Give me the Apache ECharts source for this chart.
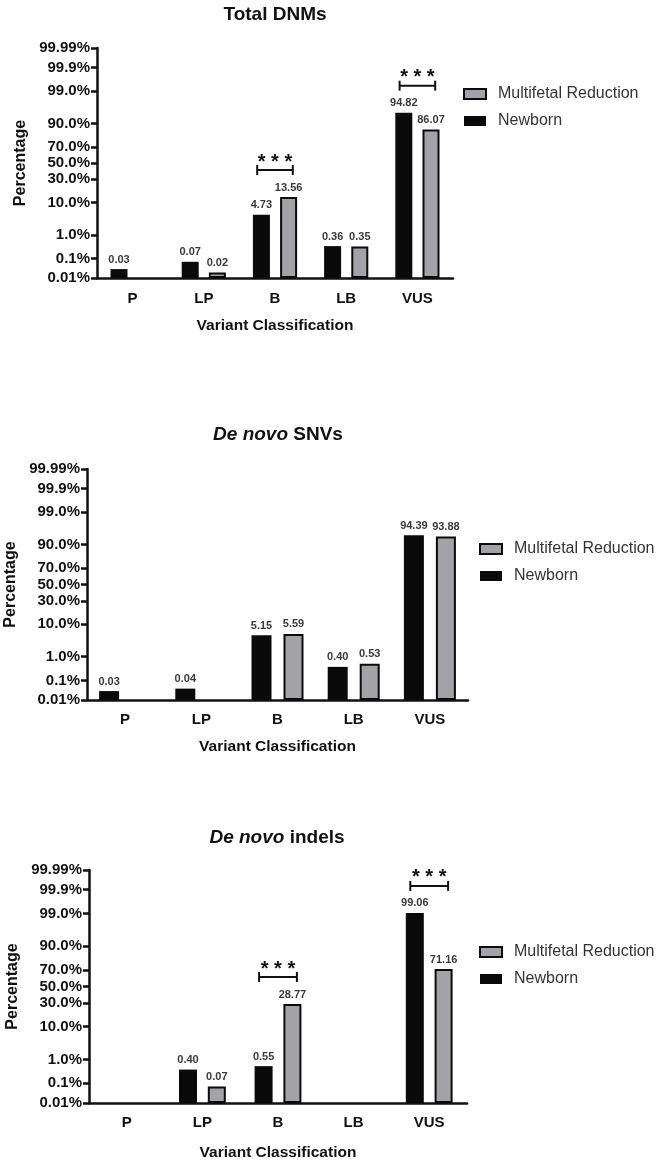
<!DOCTYPE html>
<html>
<head>
<meta charset="UTF-8">
<title></title>
<style>body{margin:0;background:#fff}</style>
</head>
<body>
<div id="main" style="width:661px;height:1169px"></div>
<script src="https://cdn.jsdelivr.net/npm/echarts@6/dist/echarts.min.js"></script>
<script>
var categories = ['P', 'LP', 'B', 'LB', 'VUS'];
var tickLabels = [0.01, 0.1, 1, 10, 30, 50, 70, 90, 99, 99.9, 99.99];

// Total DNMs
var totalNewborn = [0.03, 0.07, 4.73, 0.36, 94.82];
var totalMFR = [null, 0.02, 13.56, 0.35, 86.07];
var totalSig = ['B', 'VUS'];

// De novo SNVs
var snvNewborn = [0.03, 0.04, 5.15, 0.40, 94.39];
var snvMFR = [null, null, 5.59, 0.53, 93.88];
var snvSig = [];

// De novo indels
var indelNewborn = [null, 0.40, 0.55, null, 99.06];
var indelMFR = [null, 0.07, 28.77, null, 71.16];
var indelSig = ['B', 'VUS'];

// inverse normal cdf (probability scale like prism)
function probit(p) {
	var a = [-3.969683028665376e+01, 2.209460984245205e+02, -2.759285104469687e+02, 1.383577518672690e+02, -3.066479806614716e+01, 2.506628277459239e+00];
	var b = [-5.447609879822406e+01, 1.615858368580409e+02, -1.556989798598866e+02, 6.680131188771972e+01, -1.328068155288572e+01];
	var c = [-7.784894002430293e-03, -3.223964580411365e-01, -2.400758277161838e+00, -2.549671010422639e+00, 4.374664141464968e+00, 2.938163982698783e+00];
	var d = [7.784695709041462e-03, 3.224671290700398e-01, 2.445134137142996e+00, 3.754408661907416e+00];
	var pl = 0.02425, q, r;
	if (p < pl) {
		q = Math.sqrt(-2 * Math.log(p));
		return (((((c[0] * q + c[1]) * q + c[2]) * q + c[3]) * q + c[4]) * q + c[5]) / ((((d[0] * q + d[1]) * q + d[2]) * q + d[3]) * q + 1);
	}
	if (p > 1 - pl) {
		q = Math.sqrt(-2 * Math.log(1 - p));
		return -(((((c[0] * q + c[1]) * q + c[2]) * q + c[3]) * q + c[4]) * q + c[5]) / ((((d[0] * q + d[1]) * q + d[2]) * q + d[3]) * q + 1);
	}
	q = p - 0.5;
	r = q * q;
	return (((((a[0] * r + a[1]) * r + a[2]) * r + a[3]) * r + a[4]) * r + a[5]) * q / (((((b[0] * r + b[1]) * r + b[2]) * r + b[3]) * r + b[4]) * r + 1);
}
var BASE = -probit(0.0001);
function toAxis(pct) {
	return pct == null ? null : probit(pct / 100) + BASE;
}
var tickVals = tickLabels.map(toAxis);
function tickText(v) {
	for (var i = 0; i < tickLabels.length; i++) {
		if (Math.abs(tickVals[i] - v) < 1e-6) {
			var t = tickLabels[i];
			return (t % 1 === 0 ? t.toFixed(1) : String(t)) + '%';
		}
	}
	return '';
}

var FONT = 'Liberation Sans, Arial, sans-serif';
var INK = '#111';

var panels = [
	{ title: 'Total DNMs', newborn: totalNewborn, mfr: totalMFR, sig: totalSig,
		grid: { left: 97, top: 48, width: 356, height: 230 }, barWidth: 17,
		titleX: 275, titleY: 15, legendX: 463, legendY: 86, yGap: 63, xGap: 40, catMargin: 13 },
	{ title: '{i|De novo} SNVs', newborn: snvNewborn, mfr: snvMFR, sig: snvSig,
		grid: { left: 87, top: 469, width: 381, height: 231 }, barWidth: 20,
		titleX: 278, titleY: 435, legendX: 479, legendY: 541, yGap: 66, xGap: 39, catMargin: 12 },
	{ title: '{i|De novo} indels', newborn: indelNewborn, mfr: indelMFR, sig: indelSig,
		grid: { left: 89, top: 870, width: 378, height: 233 }, barWidth: 18,
		titleX: 277, titleY: 838, legendX: 479, legendY: 944, yGap: 68, xGap: 42, catMargin: 12 }
];

var option = {
	animation: false,
	backgroundColor: '#fff',
	textStyle: { fontFamily: FONT },
	title: [], legend: [], grid: [], xAxis: [], yAxis: [], series: []
};

panels.forEach(function(p, i) {
	option.title.push({
		text: p.title,
		left: p.titleX, top: p.titleY - 10, textAlign: 'center', padding: 0,
		textStyle: {
			fontSize: 19, fontWeight: 'bold', color: INK, fontFamily: FONT,
			rich: { i: { fontSize: 19, fontWeight: 'bold', fontStyle: 'italic', color: INK, fontFamily: FONT } }
		}
	});
	option.legend.push({
		orient: 'vertical', left: p.legendX, top: p.legendY, padding: 0,
		itemWidth: 22, itemHeight: 10, itemGap: 11, icon: 'rect',
		data: ['Multifetal Reduction', 'Newborn'],
		textStyle: { fontSize: 16, color: '#333', fontFamily: FONT, padding: [0, 0, 0, 7] }
	});
	var g = p.grid;
	option.grid.push({ left: g.left, top: g.top, width: g.width, height: g.height, containLabel: false, outerBoundsMode: 'none' });
	option.xAxis.push({
		gridIndex: i, type: 'category', data: categories,
		name: 'Variant Classification', nameLocation: 'middle', nameGap: p.xGap,
		nameTextStyle: { fontSize: 15.5, fontWeight: 'bold', color: INK, fontFamily: FONT },
		axisLine: { lineStyle: { color: INK, width: 2.5 } },
		axisTick: { alignWithLabel: true, length: 8, lineStyle: { color: INK, width: 2.5 } },
		axisLabel: { fontSize: 15, fontWeight: 'bold', color: INK, margin: p.catMargin, fontFamily: FONT },
		splitLine: { show: false }
	});
	option.yAxis.push({
		gridIndex: i, type: 'value', min: 0, max: 2 * BASE,
		name: 'Percentage', nameLocation: 'middle', nameGap: p.yGap,
		nameTextStyle: { fontSize: 16, fontWeight: 'bold', color: INK, fontFamily: FONT },
		splitLine: { show: false },
		axisLine: { show: true, lineStyle: { color: INK, width: 2.5 } },
		axisTick: { show: true, length: 6, lineStyle: { color: INK, width: 2.5 }, customValues: tickVals },
		axisLabel: { customValues: tickVals, fontSize: 15, fontWeight: 'bold', color: INK, margin: 7, fontFamily: FONT, formatter: tickText }
	});
	var lbl = function(arr) {
		return {
			show: true, position: 'top', distance: 4, fontSize: 11, fontWeight: 'bold', color: '#3a3a3a', fontFamily: FONT,
			formatter: function(params) { return arr[params.dataIndex].toFixed(2); }
		};
	};
	option.series.push({
		type: 'bar', name: 'Newborn', xAxisIndex: i, yAxisIndex: i,
		data: p.newborn.map(toAxis), barWidth: p.barWidth, barGap: '60%',
		itemStyle: { color: '#0a0a0a', borderColor: '#0a0a0a', borderWidth: 0 },
		label: lbl(p.newborn)
	});
	option.series.push({
		type: 'bar', name: 'Multifetal Reduction', xAxisIndex: i, yAxisIndex: i,
		data: p.mfr.map(toAxis), barWidth: p.barWidth, barGap: '60%',
		itemStyle: { color: '#a3a3a7', borderColor: '#0a0a0a', borderWidth: 2 },
		label: lbl(p.mfr)
	});
	if (p.sig.length) {
		option.series.push({
			type: 'custom', xAxisIndex: i, yAxisIndex: i, silent: true, z: 5,
			data: p.sig.map(function(c) {
				var k = categories.indexOf(c);
				return [k, toAxis(Math.max(p.newborn[k] || 0, p.mfr[k] || 0))];
			}),
			renderItem: function(params, api) {
				var pt = api.coord([api.value(0), api.value(1)]);
				var bw = api.size([1, 0])[0];
				var x1 = pt[0] - bw * 0.25, x2 = pt[0] + bw * 0.25, y = pt[1] - 27;
				var st = { stroke: INK, lineWidth: 2 };
				return {
					type: 'group',
					children: [
						{ type: 'line', shape: { x1: x1, y1: y, x2: x2, y2: y }, style: st },
						{ type: 'line', shape: { x1: x1, y1: y - 5, x2: x1, y2: y + 5 }, style: st },
						{ type: 'line', shape: { x1: x2, y1: y - 5, x2: x2, y2: y + 5 }, style: st },
						{ type: 'text', style: { text: '* * *', x: pt[0], y: y - 8, align: 'center', verticalAlign: 'middle',
							font: 'bold 20px ' + FONT, fill: INK } }
					]
				};
			}
		});
	}
});

var myChart = echarts.init(document.getElementById('main'));
myChart.setOption(option);
</script>
</body>
</html>
